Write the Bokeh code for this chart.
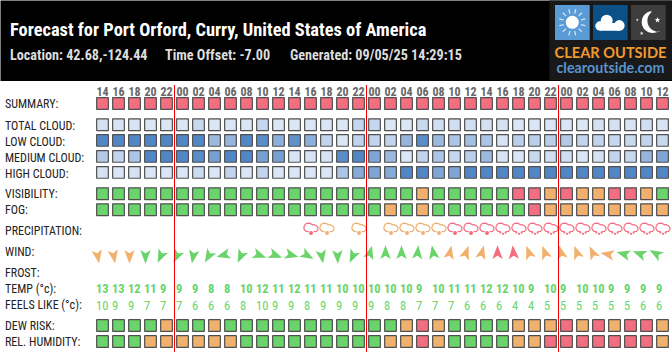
import numpy as np
from bokeh.plotting import figure
from bokeh.models import Range1d
from bokeh.embed import file_html
from bokeh.resources import INLINE
from bokeh.core.properties import value

# ---- data -----------------------------------------------------------------
title = "Forecast for Port Orford, Curry, United States of America"
location = "Location: 42.68,-124.44"
offset = "Time Offset: -7.00"
generated = "Generated: 09/05/25 14:29:15"

hours = ["14","16","18","20","22",
         "00","02","04","06","08","10","12","14","16","18","20","22",
         "00","02","04","06","08","10","12","14","16","18","20","22",
         "00","02","04","06","08","10","12"]

total_cloud = [13,10,10,7,7,7,20,7,8,7,22,7,7,8,8,7,22,22,7,7,20,15,15,15,13,13,8,8,8,8,7,13,13,10,15,10]
low_cloud = [100,100,100,100,100,100,100,50,55,100,95,60,90,60,25,7,25,25,25,55,95,50,40,45,40,10,30,30,30,35,25,25,22,20,25,20]
medium_cloud = [35,25,40,100,100,100,95,75,100,100,75,75,10,10,10,95,100,70,50,8,25,40,22,30,50,10,8,20,15,15,8,12,25,20,55,70]
high_cloud = [12,8,12,8,8,8,18,8,25,8,25,8,8,8,8,40,65,70,65,100,100,70,70,100,100,100,100,100,100,100,100,100,100,100,100,100]

G, O, R = "g", "o", "r"
summary = [R] * 36
visibility = [G]*20 + [O] + [G]*5 + [R,R,O,R,O,O,R,R,O,G]
fog = [G]*18 + [O,G,O] + [G]*6 + [R] + [O]*8
dew_risk = [G,G,G,G,O,G,G,O] + [G]*11 + [O,R,O] + [G]*4 + [O,O,O,R,O,R,O,R,R,O]
humidity = [G,G,G] + [O]*6 + [G]*9 + [O,O,R,O] + [G]*4 + [O,O] + [R]*7 + [O]

# 0 none, 1 light (orange, one drop), 2 rain (red, one drop), 3 heavy (red, three drops)
precipitation = [0]*13 + [2,1,0,1,0,1,1,1,1,2,2,2] + [3]*11

wind_heading = [170,170,180,180,205,205,190,210,255,205,110,110,105,120,170,178,205,
                16,0,0,5,350,12,20,15,0,355,340,340,345,340,335,280,285,290,300]
wind_level = [O,O,O,G,G,G,G,G,G,G,G,G,G,G,G,G,G,
              G,G,G,G,G,O,O,O,R,R,O,O,O,O,O,O,G,G,G]

temp = [13,13,12,11,9,9,9,8,8,10,12,11,12,11,11,10,10,10,10,10,9,10,11,11,12,12,10,9,10,9,10,10,9,9,9,9]
feels = [10,9,9,7,7,7,6,6,6,8,10,9,9,8,9,9,9,9,8,8,7,7,7,6,6,6,4,4,5,5,5,5,5,5,6,6]

row_labels = ["SUMMARY:","TOTAL CLOUD:","LOW CLOUD:","MEDIUM CLOUD:","HIGH CLOUD:","VISIBILITY:","FOG:",
              "PRECIPITATION:","WIND:","FROST:","TEMP (\u00b0c):","FEELS LIKE (\u00b0c):","DEW RISK:","REL. HUMIDITY:"]

# ---- layout and styles -----------------------------------------------------
COND = value("'Roboto Condensed', Roboto")
LEVEL = {"g": "#6ad46a", "o": "#f2b06e", "r": "#f36e80"}
CLOUD_LO, CLOUD_HI = np.array([0xe6,0xee,0xf9]), np.array([0x52,0x87,0xc6])

def cx(i):
    return 102.5 + 16 * i
xs = [cx(i) for i in range(len(hours))]

def cloud_colour(v):
    c = CLOUD_LO + (CLOUD_HI - CLOUD_LO) * v / 100
    return "#%02x%02x%02x" % tuple(int(round(k)) for k in c)

# the svg layer sits half a pixel off, so the ranges are moved by the same amount
p = figure(width=672, height=352, output_backend="svg", toolbar_location=None,
           x_range=Range1d(0.5, 672.5), y_range=Range1d(352.5, 0.5),
           x_axis_type=None, y_axis_type=None, min_border=0,
           outline_line_color=None, background_fill_color="white",
           margin=(0, 0, 0, 0))
p.styles = {"font-stretch": "75%"}
p.grid.visible = False

def txt(x, y, s, size, color, bold=False, align="left", font=COND):
    p.text(x=x, y=y, text=s, text_font=font, text_font_size=value(f"{size}px"),
           text_font_style="bold" if bold else "normal", text_color=color,
           text_align=align, text_baseline="middle")

# header
p.quad(left=[0], right=[673], top=[0], bottom=[81], fill_color="#000000", line_color=None)
p.quad(left=[549.5], right=[673], top=[0], bottom=[80], fill_color="#191919", line_color=None)
txt([10], [29.5], [title], 18.4, "#ffffff", True)
txt([10, 165, 290], [54.5]*3, [location, offset, generated], 14.2, "#dddddd", True)

# logo squares
p.quad(left=[555, 593, 631], right=[589.7, 627.7, 665.7], top=[5]*3, bottom=[40]*3,
       fill_color=["#5b9bd5", "#0b5087", "#3e3e3e"], line_color=None)
# sun
sc = (572.3, 22.3)
p.circle(x=[sc[0]], y=[sc[1]], radius=6.5, radius_units="screen", fill_color="#ffffff", line_color=None)
ang = np.arange(12) * np.pi / 6 + np.pi / 12
p.segment(x0=sc[0] + 9*np.cos(ang), y0=sc[1] + 9*np.sin(ang),
          x1=sc[0] + 13.5*np.cos(ang), y1=sc[1] + 13.5*np.sin(ang),
          line_color="#dbe9f6", line_width=1.2)
# cloud
p.circle(x=[606.7, 600, 619.3], y=[20.7, 26, 25.4], radius=[6, 4.7, 5.3], radius_units="screen",
         fill_color="#ffffff", line_color=None)
p.quad(left=[600], right=[619.3], top=[23], bottom=[30.7], fill_color="#ffffff", line_color=None)
# moon
oc, ic, r = (652.7, 22.0), (658.4, 20.7), 11.0
t1, t2 = (651.0, 10.9), (659.6, 31.6)
a0 = np.arctan2(t1[1]-oc[1], t1[0]-oc[0]); a1 = np.arctan2(t2[1]-oc[1], t2[0]-oc[0])
oa = np.linspace(a0 if a0 > 0 else a0 + 2*np.pi, a1, 24)
b0 = np.arctan2(t2[1]-ic[1], t2[0]-ic[0]); b1 = np.arctan2(t1[1]-ic[1], t1[0]-ic[0])
ia = np.linspace(b0, b1 + 2*np.pi, 24)
p.patch(x=np.r_[oc[0]+r*np.cos(oa), ic[0]+r*np.cos(ia)], y=np.r_[oc[1]+r*np.sin(oa), ic[1]+r*np.sin(ia)],
        fill_color="#ffffff", line_color=None)
p.scatter(x=[657.5, 637.3, 641.7], y=[20, 20, 33.3], size=[6, 3, 4], marker="star",
          fill_color="#ffffff", line_color=None)
txt([610.5], [52.5], ["CLEAR OUTSIDE"], 14.6, "#ef9a2f", True, "center", value("Lato"))
txt([610.5], [67], ["clearoutside.com"], 14.3, "#5a94cc", True, "center", value("Lato"))

# hour ticks
txt(xs, [91]*36, hours, 12, "#666666", True, "center")

# row labels
label_y = [104, 125.7, 141.7, 157.5, 173.5, 194, 210, 230.7, 251.7, 272.7, 288.7, 305, 326, 342]
txt([5]*len(row_labels), label_y, row_labels, 12, "#222222")

# cells
def cells(y, colours):
    p.rect(x=xs, y=[y]*len(xs), width=11.7, height=11.7, width_units="screen", height_units="screen",
           fill_color=colours, line_color="#505050", line_width=1.2)

cells(103.5, [LEVEL[v] for v in summary])
for y, row in zip([124.7, 140.4, 156.4, 172.4], [total_cloud, low_cloud, medium_cloud, high_cloud]):
    cells(y, [cloud_colour(v) for v in row])
cells(193.7, [LEVEL[v] for v in visibility])
cells(209.7, [LEVEL[v] for v in fog])
cells(325.5, [LEVEL[v] for v in dew_risk])
cells(341.5, [LEVEL[v] for v in humidity])

# precipitation icons
CLOUD_X = np.array([-2.5,-4.6,-6.5,-7.2,-6.4,-4.8,-2.6,-0.4,1.2,3.4,5.6,7.0,6.8,5.4,2.6])
CLOUD_Y = np.array([ 3.6, 3.4, 2.0,-0.4,-2.8,-4.4,-4.9,-4.4,-3.2,-3.3,-2.2,-0.2,1.8,3.3,3.6])
PY = 228
pxs, pys, pcs, dx, dy, ds, dc = [], [], [], [], [], [], []
for i, k in enumerate(precipitation):
    if not k:
        continue
    col = LEVEL["o"] if k == 1 else LEVEL["r"]
    pxs.append(list(cx(i) + 0.5 + CLOUD_X)); pys.append(list(PY + CLOUD_Y)); pcs.append(col)
    if k < 3:
        dx.append(cx(i) + 0.5); dy.append(PY + 4.9); ds.append(4); dc.append(col)
    else:
        for ox, oy in ((-2.6, 4.6), (0, 5.8), (2.6, 4.6)):
            dx.append(cx(i) + 0.5 + ox); dy.append(PY + oy); ds.append(2.2); dc.append(col)
p.multi_line(xs=pxs, ys=pys, line_color=pcs, line_width=1.2)
p.scatter(x=dx, y=dy, size=ds, marker="circle", fill_color=dc, line_color=None)

# wind arrows (tip, wing, notch, wing in a heading-up frame)
AX = np.array([0.0, 5.2, 0.0, -5.2])
AY = np.array([-9.2, 4.4, 1.2, 4.4])
wx, wy, wc = [], [], []
for i, (h, lv) in enumerate(zip(wind_heading, wind_level)):
    a = np.deg2rad(h)
    wx.append(list(cx(i) - 5 + AX*np.cos(a) - AY*np.sin(a)))
    wy.append(list(254.5 + AX*np.sin(a) + AY*np.cos(a)))
    wc.append(LEVEL[lv])
p.patches(xs=wx, ys=wy, fill_color=wc, line_color=None)

# temperatures
txt([x - 6.5 for x in xs], [288.7]*36, [str(v) for v in temp], 12.5, LEVEL["g"], True)
txt([x - 6.5 for x in xs], [305.3]*36, [str(v) for v in feels], 12.5, LEVEL["g"])

# midnight markers
mid = [cx(i) - 8 for i, h in enumerate(hours) if h == "00"]
p.segment(x0=mid, x1=mid, y0=[85]*len(mid), y1=[353]*len(mid), line_color="#f00000", line_width=1)

open("out.html", "w").write(file_html(p, INLINE))
